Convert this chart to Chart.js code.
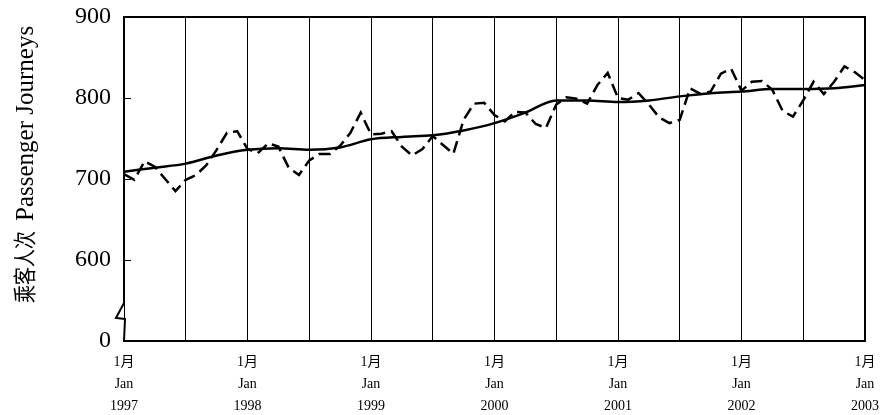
<!DOCTYPE html>
<html>
<head>
<meta charset="utf-8">
<script src="https://cdn.jsdelivr.net/npm/chart.js@4.4.0/dist/chart.umd.min.js"></script>
<style>
html, body { margin: 0; padding: 0; background: #fff; }
#wrap { width: 883px; height: 415px; }
</style>
</head>
<body>
<div id="wrap"><canvas id="chart"></canvas></div>
<script>
// monthly passenger journeys, Jan 1997 .. Jan 2003
const years = ['1997', '1998', '1999', '2000', '2001', '2002', '2003'];
const journeys = [
    706, 699, 722, 715, 700, 685, 699, 705, 717, 736, 757, 759,
    737, 732, 744, 740, 714, 705, 723, 731, 731, 741, 757, 782,
    755, 756, 759, 740, 729, 737, 753, 742, 731, 773, 793, 794,
    779, 771, 783, 782, 768, 763, 792, 801, 799, 793, 816, 831,
    800, 798, 806, 792, 776, 769, 773, 812, 805, 808, 830, 836,
    809, 820, 821, 810, 784, 777, 797, 820, 805, 820, 839, 832,
    822
];
// trend, one value per quarter
const trendQuarterly = [
    709, 714, 719, 729, 736, 738, 736, 739, 749, 752, 754, 760,
    769, 782, 797, 797, 795, 797, 802, 806, 808, 811, 811, 812,
    816
];
const yTicks = [500, 600, 700, 800, 900];
const yTickText = ['0', '600', '700', '800', '900'];
const titleZh = '乘客人次';
const titleEn = 'Passenger Journeys';

const months = journeys.map((v, i) => years[Math.floor(i / 12)] + '-' + (i % 12 + 1));
const trend = journeys.map((v, i) => (i % 3 === 0 ? trendQuarterly[i / 3] : null));

const serif = "'Liberation Serif', 'Noto Sans CJK SC', serif";

const frame = {
    id: 'frame',
    afterDatasetsDraw(chart) {
        const ctx = chart.ctx;
        const a = chart.chartArea;
        const y = chart.scales.y;
        ctx.save();
        ctx.strokeStyle = '#000';
        ctx.lineWidth = 2;
        // left axis with break, top and right border
        ctx.beginPath();
        ctx.moveTo(a.right, a.bottom);
        ctx.lineTo(a.right, a.top);
        ctx.lineTo(a.left, a.top);
        ctx.lineTo(a.left, a.bottom - 38);
        ctx.lineTo(a.left - 8, a.bottom - 23);
        ctx.lineTo(a.left + 1, a.bottom - 22);
        ctx.lineTo(a.left, a.bottom);
        ctx.stroke();
        // inward tick marks
        ctx.lineWidth = 1;
        [600, 700, 800].forEach(v => {
            const py = Math.round(y.getPixelForValue(v)) + 0.5;
            ctx.beginPath();
            ctx.moveTo(a.left, py);
            ctx.lineTo(a.left + 7, py);
            ctx.stroke();
        });
        // y axis title, chinese + english
        ctx.fillStyle = '#000';
        ctx.translate(24, 303);
        ctx.rotate(-Math.PI / 2);
        ctx.textAlign = 'left';
        ctx.textBaseline = 'middle';
        ctx.font = "18px 'Noto Sans CJK SC'";
        const w = ctx.measureText(titleZh).width;
        ctx.save();
        ctx.scale(1, 1.25);
        ctx.fillText(titleZh, 0, 0);
        ctx.restore();
        ctx.font = "25px 'Liberation Serif'";
        ctx.fillText(titleEn, w + 10, 2);
        ctx.restore();
    }
};

new Chart(document.getElementById('chart'), {
    type: 'line',
    data: {
        labels: months,
        datasets: [
            {
                label: 'Passenger Journeys',
                data: journeys,
                borderColor: '#000',
                borderWidth: 2.5,
                borderDash: [12, 6],
                pointRadius: 0,
                tension: 0,
                fill: false,
            },
            {
                label: 'Trend',
                data: trend,
                borderColor: '#000',
                borderWidth: 2.5,
                pointRadius: 0,
                spanGaps: true,
                cubicInterpolationMode: 'monotone',
                fill: false,
            },
        ],
    },
    options: {
        responsive: true,
        maintainAspectRatio: false,
        animation: false,
        layout: { padding: { top: 17, right: 18, left: 0, bottom: 0 } },
        plugins: {
            legend: { display: false },
            tooltip: { enabled: false },
        },
        scales: {
            x: {
                offset: false,
                afterFit: s => {
                    s.height = 74;
                    s.paddingLeft = 0;
                    s.paddingRight = 0;
                },
                grid: {
                    drawTicks: false,
                    color: c => (c.index % 6 === 0 ? '#000' : 'rgba(0,0,0,0)'),
                    lineWidth: 1,
                },
                border: { display: true, color: '#000', width: 2 },
                ticks: {
                    autoSkip: false,
                    maxRotation: 0,
                    padding: 10,
                    color: '#000',
                    font: { family: serif, size: 14, lineHeight: 1.57 },
                    callback: (v, i) => (i % 12 === 0 ? ['1月', 'Jan', years[i / 12]] : ''),
                },
            },
            y: {
                min: 500,
                max: 900,
                afterFit: s => {
                    s.width = 124;
                    s.paddingTop = 0;
                    s.paddingBottom = 0;
                },
                afterBuildTicks: s => { s.ticks = yTicks.map(v => ({ value: v })); },
                grid: { display: false, drawTicks: false },
                border: { display: false },
                ticks: {
                    padding: 13,
                    color: '#000',
                    font: { family: serif, size: 24 },
                    callback: v => yTickText[yTicks.indexOf(v)],
                },
            },
        },
    },
    plugins: [frame],
});
</script>
</body>
</html>
